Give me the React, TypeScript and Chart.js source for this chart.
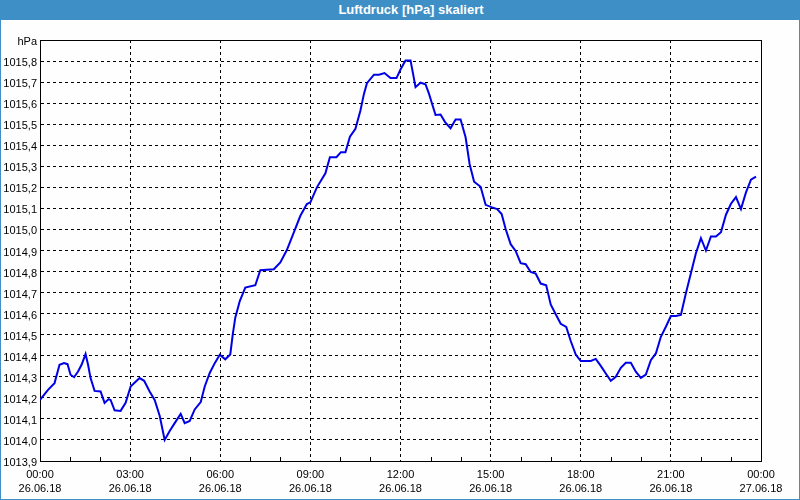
import React, { useEffect, useRef } from 'react';
import { Chart, registerables } from 'chart.js';

Chart.register(...registerables);

const TITLE = 'Luftdruck [hPa] skaliert';
const Y_UNIT = 'hPa';
const Y_MIN = 1013.9;
const Y_MAX = 1015.9;
const Y_STEP = 0.1;
const X_MIN = 0;
const X_MAX = 1440;
const X_STEP = 180;
const MINOR_STEP = 60;

const X_TICK_TIMES = ['00:00', '03:00', '06:00', '09:00', '12:00', '15:00', '18:00', '21:00', '00:00'];
const X_TICK_DATES = ['26.06.18', '26.06.18', '26.06.18', '26.06.18', '26.06.18', '26.06.18', '26.06.18', '26.06.18', '27.06.18'];

// minutes since 26.06.18 00:00
const TIMES = [
  0, 16, 29, 39, 48, 55, 61, 68, 76, 83, 91, 96, 101, 109, 121, 129, 137, 141, 149, 161,
  171, 181, 193, 199, 208, 219, 229, 239, 249, 259, 269, 281, 289, 299, 309, 321, 329, 339, 349, 359,
  370, 380, 385, 390, 399, 410, 430, 440, 467, 480, 493, 507, 520, 533, 540, 553, 570, 579, 592, 601,
  610, 619, 630, 640, 647, 653, 667, 677, 688, 700, 712, 720, 730, 740,
  745, 750, 760, 770, 777, 783, 790, 800, 809, 820, 830, 840, 850, 858, 867, 880, 890, 903, 913, 922,
  930, 940, 950, 960, 970, 980, 990, 1000, 1011, 1020, 1030, 1040, 1051, 1060, 1070, 1080, 1100,
  1110, 1120, 1130, 1140, 1150, 1160, 1170, 1180, 1190, 1200, 1210, 1220, 1230, 1240, 1250, 1260, 1270,
  1280, 1290, 1300, 1310, 1320, 1330, 1340, 1350, 1360, 1370, 1380, 1390, 1400, 1410, 1420, 1430,
];

const VALUES = [
  1014.19, 1014.238, 1014.27, 1014.357, 1014.365, 1014.36, 1014.31, 1014.298, 1014.325, 1014.357,
  1014.408, 1014.357, 1014.294, 1014.233, 1014.23, 1014.176, 1014.194, 1014.19, 1014.141, 1014.138,
  1014.176, 1014.254, 1014.281, 1014.294, 1014.281, 1014.23, 1014.19, 1014.115, 1014.0, 1014.043,
  1014.08, 1014.124, 1014.08, 1014.09, 1014.145, 1014.18, 1014.254, 1014.318, 1014.365, 1014.405,
  1014.383, 1014.406, 1014.502, 1014.581, 1014.66, 1014.724, 1014.735, 1014.806, 1014.811, 1014.843,
  1014.902, 1014.986, 1015.065, 1015.121, 1015.129, 1015.2, 1015.267, 1015.343, 1015.343, 1015.367,
  1015.367, 1015.441, 1015.478, 1015.565, 1015.644, 1015.695, 1015.735, 1015.735, 1015.743, 1015.719,
  1015.719, 1015.76, 1015.803, 1015.803,
  1015.74, 1015.676, 1015.697, 1015.689, 1015.644, 1015.597, 1015.544, 1015.546, 1015.51, 1015.481,
  1015.522, 1015.522, 1015.438, 1015.311, 1015.227, 1015.203, 1015.117, 1015.105, 1015.097, 1015.073,
  1015.002, 1014.93, 1014.898, 1014.84, 1014.835, 1014.798, 1014.79, 1014.743, 1014.735, 1014.644,
  1014.597, 1014.552, 1014.537, 1014.47, 1014.406, 1014.375, 1014.375,
  1014.385, 1014.352, 1014.316, 1014.281, 1014.3, 1014.343, 1014.367, 1014.367, 1014.324, 1014.295,
  1014.311, 1014.379, 1014.411, 1014.49, 1014.538, 1014.589, 1014.589, 1014.594, 1014.697, 1014.792,
  1014.887, 1014.959, 1014.9, 1014.967, 1014.967, 1014.987, 1015.07, 1015.122, 1015.154, 1015.097,
  1015.176, 1015.237, 1015.251,
];

const FRAME_BLUE = '#3d8fc6';
const LINE_BLUE = '#0000e6';
const FONT = "'Liberation Sans', Arial, sans-serif";

const minorTicksPlugin = {
  id: 'minorTicks',
  afterDraw(chart: any) {
    const xs = chart.scales.x;
    const { ctx, chartArea } = chart;
    ctx.save();
    ctx.strokeStyle = '#000';
    ctx.lineWidth = 1;
    for (let m = X_MIN + MINOR_STEP; m < X_MAX; m += MINOR_STEP) {
      if (m % X_STEP === 0) continue;
      const px = Math.round(xs.getPixelForValue(m)) + 0.5;
      ctx.beginPath();
      ctx.moveTo(px, chartArea.bottom);
      ctx.lineTo(px, chartArea.bottom - 4);
      ctx.stroke();
    }
    ctx.restore();
  },
};

export default function App() {
  const ref = useRef<HTMLCanvasElement | null>(null);

  useEffect(() => {
    if (!ref.current) return;
    const data = TIMES.map((t, i) => ({ x: t, y: VALUES[i] }));
    const chart = new Chart(ref.current, {
      type: 'line',
      data: {
        datasets: [
          {
            data,
            borderColor: LINE_BLUE,
            borderWidth: 2,
            pointRadius: 0,
            tension: 0,
            fill: false,
          },
        ],
      },
      options: {
        animation: false,
        responsive: false,
        devicePixelRatio: 1,
        layout: { padding: { left: 0, top: 40, right: 39, bottom: 0 } },
        plugins: { legend: { display: false }, tooltip: { enabled: false }, title: { display: false } },
        scales: {
          x: {
            type: 'linear',
            min: X_MIN,
            max: X_MAX,
            afterFit: (s: any) => { s.height = 39; },
            ticks: {
              stepSize: X_STEP,
              autoSkip: false,
              maxRotation: 0,
              padding: 7,
              color: '#000',
              font: { family: FONT, size: 11, lineHeight: 1.3 },
              callback: (v: any) => {
                const i = Math.round((Number(v) - X_MIN) / X_STEP);
                return [X_TICK_TIMES[i], X_TICK_DATES[i]];
              },
            },
            grid: {
              color: '#000',
              lineWidth: 1,
              drawTicks: false,
            },
            border: {
              display: true,
              color: '#000',
              width: 1,
              dash: (c: any) => (c.tick && c.tick.value >= X_MAX - 0.001 ? [] : [3, 3]),
            },
          },
          y: {
            type: 'linear',
            min: Y_MIN,
            max: Y_MAX,
            afterFit: (s: any) => { s.width = 40; },
            ticks: {
              stepSize: Y_STEP,
              autoSkip: false,
              padding: 3,
              labelOffset: 2,
              color: '#000',
              font: { family: FONT, size: 11 },
              callback: (v: any) => {
                const n = Number(v);
                if (Math.abs(n - Y_MAX) < 1e-6) return Y_UNIT;
                return n.toFixed(1).replace('.', ',');
              },
            },
            grid: {
              color: '#000',
              lineWidth: 1,
              drawTicks: false,
            },
            border: {
              display: true,
              color: '#000',
              width: 1,
              dash: (c: any) => (c.tick && c.tick.value >= Y_MAX - 0.001 ? [] : [3, 3]),
            },
          },
        },
      },
      plugins: [minorTicksPlugin],
    } as any);
    return () => chart.destroy();
  }, []);

  return (
    <div
      style={{
        position: 'absolute',
        left: 0,
        top: 0,
        width: 800,
        height: 500,
        boxSizing: 'border-box',
        border: `1px solid ${FRAME_BLUE}`,
        background: '#fdfefd',
        overflow: 'hidden',
      }}
    >
      <div
        style={{
          position: 'absolute',
          left: -1,
          top: -1,
          width: 800,
          height: 20,
          background: FRAME_BLUE,
          color: '#fff',
          font: `bold 13px ${FONT}`,
          lineHeight: '20px',
          textAlign: 'center',
          paddingLeft: 22,
          boxSizing: 'border-box',
        }}
      >
        {TITLE}
      </div>
      <canvas
        ref={ref}
        width={800}
        height={500}
        style={{ position: 'absolute', left: -1, top: -1, width: 800, height: 500 }}
      />
    </div>
  );
}
